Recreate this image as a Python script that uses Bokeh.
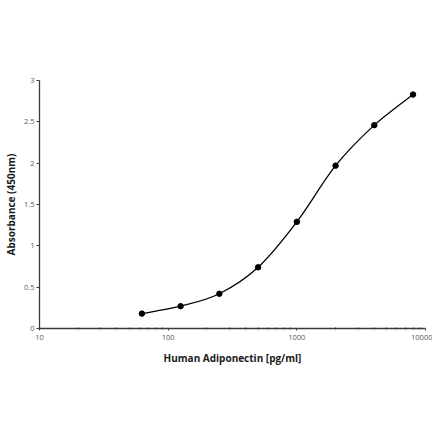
import numpy as np
from bokeh.plotting import figure
from bokeh.models import Range1d, FixedTicker
from bokeh.embed import file_html
from bokeh.resources import INLINE

conc = [62.5, 125, 250, 500, 1000, 2000, 4000, 8000]
absorbance = [0.18, 0.27, 0.42, 0.74, 1.29, 1.97, 2.46, 2.83]
x_ticks = [10, 100, 1000, 10000]
y_ticks = [0, 0.5, 1, 1.5, 2, 2.5, 3]
x_title = "Human Adiponectin [pg/ml]"
y_title = "Absorbance (450nm)"

p = figure(width=432, height=425, x_axis_type="log", output_backend="svg",
           toolbar_location=None, x_range=Range1d(10, 10000), y_range=Range1d(0, 3),
           min_border_left=37, min_border_right=7, min_border_top=80, min_border_bottom=97)
p.outline_line_color = None
p.grid.visible = False

# smooth curve (Catmull-Rom style bezier, in log-x / linear-y space)
lx = np.log10(np.array(conc, dtype=float))
yy = np.array(absorbance, dtype=float)
n = len(lx)
x0, y0, x1, y1, cx0, cy0, cx1, cy1 = [], [], [], [], [], [], [], []
for i in range(n - 1):
    pa = max(i - 1, 0)
    pb = min(i + 2, n - 1)
    c0x = lx[i] + (lx[i + 1] - lx[pa]) / 6
    c0y = yy[i] + (yy[i + 1] - yy[pa]) / 6
    c1x = lx[i + 1] - (lx[pb] - lx[i]) / 6
    c1y = yy[i + 1] - (yy[pb] - yy[i]) / 6
    x0.append(conc[i]); y0.append(absorbance[i])
    x1.append(conc[i + 1]); y1.append(absorbance[i + 1])
    cx0.append(10 ** c0x); cy0.append(c0y)
    cx1.append(10 ** c1x); cy1.append(c1y)
p.bezier(x0=x0, y0=y0, x1=x1, y1=y1, cx0=cx0, cy0=cy0, cx1=cx1, cy1=cy1,
         line_color="black", line_width=1.3)
p.scatter(conc, absorbance, size=5.5, color="black")

for ax in (p.xaxis[0], p.yaxis[0]):
    ax.axis_line_color = "#3a3a3a"
    ax.axis_line_width = 1.3
    ax.major_tick_line_color = "#3a3a3a"
    ax.minor_tick_line_color = "#3a3a3a"
    ax.major_label_text_font = "Open Sans"
    ax.major_label_text_font_size = "7.5px"
    ax.major_label_text_color = "#595959"
    ax.axis_label_text_font = "Open Sans"
    ax.axis_label_text_font_style = "bold"
    ax.axis_label_text_font_size = "10px"
    ax.axis_label_text_color = "#1a1a1a"

p.xaxis.ticker = FixedTicker(ticks=x_ticks, minor_ticks=[v * k for v in [10, 100, 1000] for k in range(2, 10)])
p.xaxis.major_label_overrides = {t: str(t) for t in x_ticks}
p.xaxis.major_tick_out = 2
p.xaxis.major_tick_in = 0
p.xaxis.minor_tick_out = 1
p.xaxis.minor_tick_in = 1
p.xaxis.major_label_standoff = 4
p.xaxis.axis_label = x_title
p.xaxis.axis_label_standoff = 8

p.yaxis.ticker = FixedTicker(ticks=y_ticks)
p.yaxis.major_label_overrides = {0: "0", 0.5: "0.5", 1: "1", 1.5: "1.5", 2: "2", 2.5: "2.5", 3: "3"}
p.yaxis.major_tick_out = 3
p.yaxis.major_tick_in = 0
p.yaxis.minor_tick_out = 0
p.yaxis.minor_tick_in = 0
p.yaxis.major_label_standoff = 2
p.yaxis.axis_label = y_title
p.yaxis.axis_label_standoff = 3

open("out.html", "w").write(file_html(p, INLINE))
